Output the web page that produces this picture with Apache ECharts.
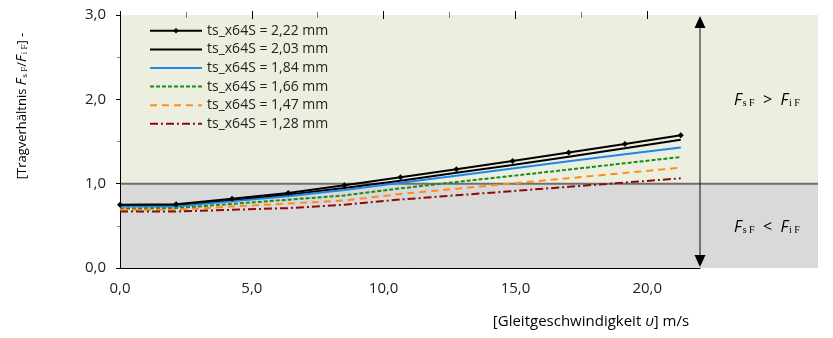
<!DOCTYPE html>
<html>
<head>
<meta charset="utf-8">
<script src="https://cdn.jsdelivr.net/npm/echarts@6/dist/echarts.min.js"></script>
<style>
  html, body { margin: 0; padding: 0; background: #fff; }
  #chart { width: 833px; height: 338px; }
</style>
</head>
<body>
<div id="chart"></div>
<script>
// Gleitgeschwindigkeit v in m/s
const speeds = [0, 2.13, 4.25, 6.38, 8.51, 10.64, 12.76, 14.89, 17.02, 19.15, 21.27];

// Tragverhältnis F_sF / F_iF for each flank thickness
const ratio222 = [0.75, 0.755, 0.82, 0.89, 0.98, 1.075, 1.17, 1.27, 1.37, 1.47, 1.575];
const ratio203 = [0.74, 0.745, 0.80, 0.87, 0.95, 1.035, 1.13, 1.22, 1.32, 1.42, 1.52];
const ratio184 = [0.73, 0.73, 0.79, 0.85, 0.925, 1.01, 1.095, 1.18, 1.265, 1.35, 1.43];
const ratio166 = [0.705, 0.71, 0.76, 0.81, 0.86, 0.944, 1.02, 1.093, 1.167, 1.242, 1.316];
const ratio147 = [0.69, 0.69, 0.73, 0.765, 0.80, 0.878, 0.94, 1.003, 1.065, 1.127, 1.19];
const ratio128 = [0.67, 0.67, 0.69, 0.71, 0.75, 0.812, 0.862, 0.912, 0.963, 1.013, 1.063];

const seriesNames = [
  'ts_x64S = 2,22 mm', 'ts_x64S = 2,03 mm', 'ts_x64S = 1,84 mm',
  'ts_x64S = 1,66 mm', 'ts_x64S = 1,47 mm', 'ts_x64S = 1,28 mm'
];

const xMajorTicks = [0, 5, 10, 15, 20];
const xMinorTicks = [2.5, 7.5, 12.5, 17.5];

const FONT = '"Open Sans", "DejaVu Sans", sans-serif';
const comma = v => v.toFixed(1).replace('.', ',');
const pairs = ys => speeds.map((x, i) => [x, ys[i]]);

const chart = echarts.init(document.getElementById('chart'), null, { renderer: 'canvas' });

const lineSeries = (name, ys, color, type, extra) => Object.assign({
  name, type: 'line', data: pairs(ys), z: 3,
  symbol: 'none', showSymbol: false, animation: false,
  lineStyle: { color, width: 2, type },
  itemStyle: { color },
  emphasis: { disabled: true }
}, extra || {});

const baseX = { type: 'value', min: 0, max: 22, gridIndex: 0, splitLine: { show: false } };

// Only the first curve carries point markers; the other legend entries show the line alone
const legendData = seriesNames.map((name, i) =>
  i === 0 ? { name } : { name, itemStyle: { opacity: 0 } });

chart.setOption({
  animation: false,
  grid: { left: 120, top: 15, right: 133, bottom: 70, containLabel: false },
  legend: {
    left: 149, top: 23.8, orient: 'vertical', padding: 0,
    itemWidth: 52, itemHeight: 7, itemGap: 4.6,
    textStyle: { fontFamily: FONT, fontSize: 14, color: '#222' },
    data: legendData
  },
  xAxis: [
    Object.assign({}, baseX, {
      axisLine: { lineStyle: { color: '#000', width: 1 } },
      axisTick: { show: false },
      axisLabel: {
        customValues: xMajorTicks, formatter: comma, margin: 13,
        fontFamily: FONT, fontSize: 15, color: '#222'
      }
    }),
    Object.assign({}, baseX, {
      offset: -4,
      axisLine: { show: false },
      axisTick: { show: true, customValues: xMajorTicks, length: 8, lineStyle: { color: '#000', width: 1 } },
      axisLabel: { show: false }
    }),
    Object.assign({}, baseX, {
      offset: -3,
      axisLine: { show: false },
      axisTick: { show: true, customValues: xMinorTicks, length: 6, lineStyle: { color: '#777', width: 1 } },
      axisLabel: { show: false }
    })
  ],
  yAxis: {
    type: 'value', min: 0, max: 3, interval: 1,
    axisLine: { show: true, lineStyle: { color: '#000', width: 1 } },
    axisTick: { show: true, length: 4, lineStyle: { color: '#000' } },
    minorTick: { show: true, splitNumber: 2, length: 3, lineStyle: { color: '#888' } },
    splitLine: { show: false },
    axisLabel: { formatter: comma, margin: 14, fontFamily: FONT, fontSize: 15, color: '#222' }
  },
  series: [
    lineSeries(seriesNames[0], ratio222, '#000', 'solid',
      { symbol: 'diamond', symbolSize: 6, showSymbol: true, z: 4 }),
    lineSeries(seriesNames[1], ratio203, '#000', 'solid'),
    lineSeries(seriesNames[2], ratio184, '#1f87e8', 'solid'),
    lineSeries(seriesNames[3], ratio166, '#1a8a1a', [4, 2]),
    lineSeries(seriesNames[4], ratio147, '#ff8c1a', [7, 5]),
    lineSeries(seriesNames[5], ratio128, '#8b0a0a', [8, 3, 2, 3])
  ]
});

// Zones above/below a ratio of 1, the range arrow and the axis captions
const px = (x, y) => chart.convertToPixel({ gridIndex: 0 }, [x, y]);
const pTop = px(0, 3), pOne = px(0, 1), pZero = px(0, 0), pArrowTop = px(22, 3), pArrowBot = px(22, 0);
const zoneRight = 818;
const ax = pArrowTop[0];

const subRich = {
  i: { fontFamily: FONT, fontStyle: 'italic', fontSize: 16, color: '#222' },
  t: { fontFamily: FONT, fontSize: 16, color: '#222' },
  sub: { fontFamily: '"Liberation Serif", serif', fontSize: 10, color: '#222', padding: [7, 0, 0, 1] }
};

chart.setOption({
  graphic: [
    { type: 'rect', z: -10, silent: true,
      shape: { x: pTop[0], y: pTop[1], width: zoneRight - pTop[0], height: pOne[1] - pTop[1] },
      style: { fill: '#ecefdf' } },
    { type: 'rect', z: -10, silent: true,
      shape: { x: pOne[0], y: pOne[1], width: zoneRight - pOne[0], height: pZero[1] - pOne[1] },
      style: { fill: '#d9d9d9' } },
    { type: 'line', z: -5, silent: true,
      shape: { x1: pOne[0], y1: pOne[1], x2: zoneRight, y2: pOne[1] },
      style: { stroke: '#6e6e6e', lineWidth: 2 } },
    { type: 'line', z: 5, silent: true,
      shape: { x1: ax, y1: pArrowTop[1] + 6, x2: ax, y2: pArrowBot[1] - 6 },
      style: { stroke: '#111', lineWidth: 1 } },
    { type: 'polygon', z: 5, silent: true,
      shape: { points: [[ax, pArrowTop[1] + 1], [ax - 5.5, pArrowTop[1] + 13], [ax + 5.5, pArrowTop[1] + 13]] },
      style: { fill: '#000' } },
    { type: 'polygon', z: 5, silent: true,
      shape: { points: [[ax, pArrowBot[1] - 1], [ax - 5.5, pArrowBot[1] - 13], [ax + 5.5, pArrowBot[1] - 13]] },
      style: { fill: '#000' } },
    { type: 'text', z: 6, silent: true, x: 767, y: 100,
      style: { text: '{i|F}{sub|s F}{t|  >  }{i|F}{sub|i F}', rich: subRich, align: 'center', verticalAlign: 'middle' } },
    { type: 'text', z: 6, silent: true, x: 767, y: 227,
      style: { text: '{i|F}{sub|s F}{t|  <  }{i|F}{sub|i F}', rich: subRich, align: 'center', verticalAlign: 'middle' } },
    { type: 'text', z: 6, silent: true, x: 22, y: 106, rotation: Math.PI / 2,
      style: {
        text: '{t|[Tragverhältnis }{i|F}{sub|s F}{t|/}{i|F}{sub|i F}{t|] -}',
        rich: {
          t: { fontFamily: FONT, fontSize: 13, color: '#222' },
          i: { fontFamily: FONT, fontStyle: 'italic', fontSize: 14, color: '#222' },
          sub: { fontFamily: '"Liberation Serif", serif', fontSize: 9, color: '#222', padding: [6, 0, 0, 1] }
        },
        align: 'center', verticalAlign: 'middle'
      } },
    { type: 'text', z: 6, silent: true, x: 591, y: 322,
      style: {
        text: '{t|[Gleitgeschwindigkeit }{i|υ}{t|] m/s}',
        rich: {
          t: { fontFamily: FONT, fontSize: 15, color: '#222' },
          i: { fontFamily: FONT, fontStyle: 'italic', fontSize: 15, color: '#222' }
        },
        align: 'center', verticalAlign: 'middle'
      } }
  ]
});
</script>
</body>
</html>
